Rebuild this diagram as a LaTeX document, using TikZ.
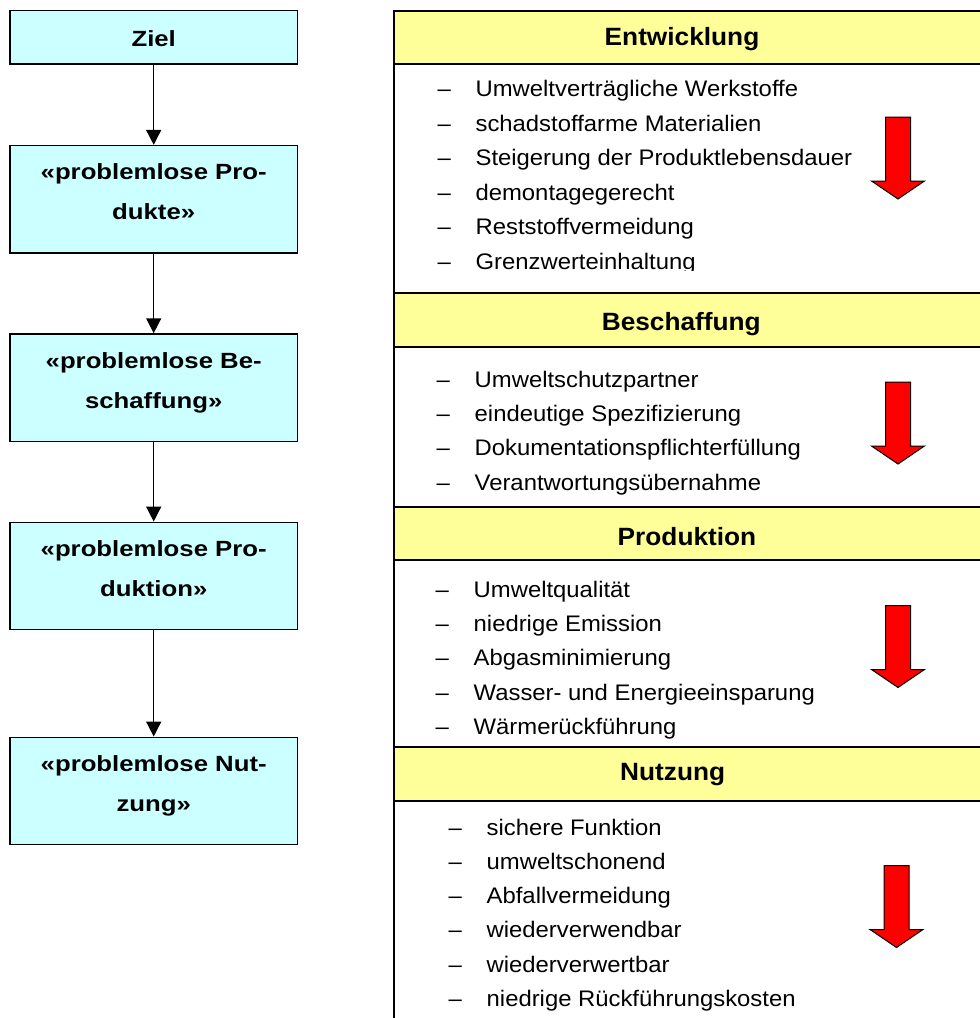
\documentclass[tikz,border=0pt]{standalone}
\usepackage{fontspec}
\setmainfont{Liberation Sans}
\newfontfamily\boxfont[FakeStretch=1.17]{Liberation Sans}
\newfontfamily\bodyfont[FakeStretch=1.06]{Liberation Sans}
\newfontfamily\headfont[FakeStretch=1.05]{Liberation Sans}
\usetikzlibrary{arrows.meta}
\definecolor{goalcyan}{HTML}{CCFFFF}
\definecolor{headyellow}{HTML}{FFFF99}
\definecolor{arrowred}{HTML}{FF0000}
\newcommand\listdash{\makebox[38pt][l]{–}}

\tikzset{
  goalbox/.style={draw=black, line width=1.6pt, fill=goalcyan,
    minimum width=287.5pt, minimum height=107.3pt, inner sep=0pt,
    align=center, font=\boxfont\bfseries\fontsize{22}{40}\selectfont,
    text height=54.9pt, text depth=13.9pt},
  flow/.style={line width=1.5pt, -{Triangle[length=15pt,width=15pt]}},
  rule/.style={line width=2pt, draw=black},
  headtext/.style={anchor=base, inner sep=0pt, font=\headfont\bfseries\fontsize{25}{28}\selectfont},
  listitem/.style={anchor=base west, inner sep=0pt, font=\bodyfont\fontsize{22.5}{34}\selectfont},
  downarrow/.pic={
    \filldraw[fill=arrowred, draw=black, line width=1pt]
      (-12.5,0) -- (12.5,0) -- (12.5,64) -- (26.5,64) -- (0,82)
      -- (-26.5,64) -- (-12.5,64) -- cycle;
  }
}

\begin{document}
\begin{tikzpicture}[x=1pt,y=-1pt]
\useasboundingbox (0,0) rectangle (980,1018);
\clip (0,0) rectangle (980,1018);
\fill[white] (0,0) rectangle (980,1018);

% goal chain on the left
\node[goalbox, minimum height=53.3pt, text height=18.8pt, text depth=0pt] (ziel) at (153.7,37.3) {Ziel};
\node[goalbox] (gprod) at (153.7,199.3) {«problemlose Pro-\\dukte»};
\node[goalbox] (gbesch) at (153.7,387.7) {«problemlose Be-\\schaffung»};
\node[goalbox] (gfert) at (153.7,576) {«problemlose Pro-\\duktion»};
\node[goalbox] (gnutz) at (153.7,791) {«problemlose Nut-\\zung»};
\draw[flow] (ziel) -- (gprod);
\draw[flow] (gprod) -- (gbesch);
\draw[flow] (gbesch) -- (gfert);
\draw[flow] (gfert) -- (gnutz);

% table of phases on the right
\fill[headyellow] (394.1,10.7) rectangle (995,64);
\fill[headyellow] (394.1,292.7) rectangle (995,346.7);
\fill[headyellow] (394.1,506.7) rectangle (995,560);
\fill[headyellow] (394.1,746.7) rectangle (995,800.7);
\foreach \y in {10.7,64,292.7,346.7,506.7,560,746.7,800.7}
  \draw[rule] (393.1,\y) -- (995,\y);
\draw[rule] (394.1,9.7) -- (394.1,1030);

\node[headtext] (hent) at (682,45.7) {Entwicklung};
\node[headtext] (hbes) at (681.3,330) {Beschaffung};
\node[headtext] (hpro) at (687,545.7) {Produktion};
\node[headtext] (hnut) at (672.7,780.7) {Nutzung};

\begin{scope}
  \clip (396,66) rectangle (975,270.3);
  \foreach \t [count=\i] in {Umweltverträgliche Werkstoffe, schadstoffarme Materialien,
      Steigerung der Produktlebensdauer, demontagegerecht, Reststoffvermeidung,
      Grenzwerteinhaltung}
    \node[listitem] (ent\i) at (437.4,{96.7+34.5*(\i-1)}) {\listdash\t};
\end{scope}

\foreach \t [count=\i] in {Umweltschutzpartner, eindeutige Spezifizierung,
    Dokumentationspflichterfüllung, Verantwortungsübernahme}
  \node[listitem] (bes\i) at (436.5,{387.3+34.3*(\i-1)}) {\listdash\t};

\begin{scope}
  \clip (396,562) rectangle (975,738.3);
  \foreach \t [count=\i] in {Umweltqualität, niedrige Emission, Abgasminimierung,
      Wasser- und Energieeinsparung, Wärmerückführung}
    \node[listitem] (pro\i) at (435.5,{597.3+34.3*(\i-1)}) {\listdash\t};
\end{scope}

\foreach \t [count=\i] in {sichere Funktion, umweltschonend, Abfallvermeidung,
    wiederverwendbar, wiederverwertbar, niedrige Rückführungskosten}
  \node[listitem] (nut\i) at (448.5,{835+34.3*(\i-1)}) {\listdash\t};

% direction arrows
\pic at (898,117) {downarrow};
\pic at (898,382) {downarrow};
\pic at (898,605.5) {downarrow};
\pic at (896.5,865.5) {downarrow};
\end{tikzpicture}
\end{document}
